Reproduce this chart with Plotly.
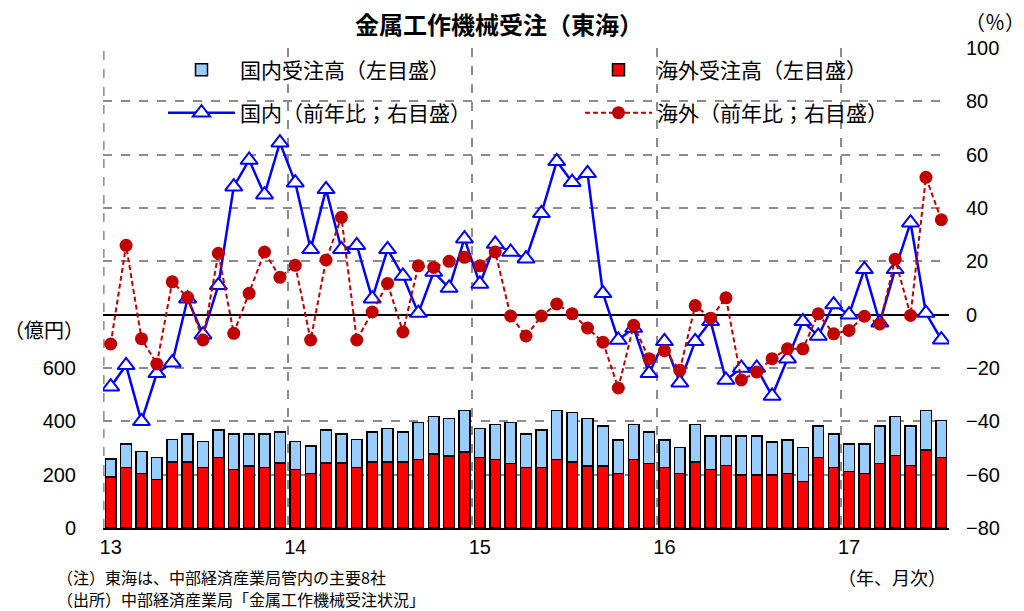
import plotly.graph_objects as go

# month index 0 = 2013-01 ... 54 = 2017-07
months = list(range(55))
year_labels = ["13", "14", "15", "16", "17"]
year_ticks = [0, 12, 24, 36, 48]

# 海外受注高（億円）
overseas_orders = [191, 227, 205, 182, 248, 248, 227, 264, 220, 233, 227, 243,
                   220, 205, 243, 243, 227, 248, 248, 248, 256, 277, 270, 285,
                   264, 256, 242, 227, 227, 256, 248, 233, 233, 205, 256, 242,
                   227, 205, 248, 220, 234, 198, 198, 198, 205, 175, 264, 227,
                   212, 205, 242, 271, 234, 293, 264]
# 国内受注高（億円）
domestic_orders = [67, 88, 82, 82, 83, 104, 97, 103, 132, 119, 125, 117,
                   104, 103, 124, 109, 104, 112, 126, 112, 140, 141, 141, 155,
                   110, 133, 154, 125, 140, 184, 185, 178, 149, 125, 133, 118,
                   103, 96, 141, 125, 111, 147, 147, 125, 125, 126, 118, 125,
                   103, 110, 140, 147, 148, 147, 140]
# 国内（前年比, %）
domestic_yoy = [-27, -19, -40, -22, -18, 6, -7.5, 11, 48, 58, 45, 64.5,
                49.5, 24.5, 47, 24.5, 26, 6, 24.5, 14.5, 0.6, 16, 10, 28.5,
                11.5, 26.5, 23.5, 21, 38, 57.5, 49.7, 53, 8, -9.5, -5, -22,
                -10, -25.5, -10, -2.5, -24.5, -20, -20, -30.5, -16.5, -2.5, -8, 3.8,
                0, 17, -3, 17, 34.5, 0.6, -9.4]
# 海外（前年比, %）
overseas_yoy = [-11, 26, -9, -18.5, 12.3, 6.5, -9.5, 23, -7, 8, 23.5, 14,
                18.5, -9.5, 20.5, 36.5, -9.5, 1, 11.7, -6.5, 18.3, 17.7, 20, 21.5,
                18.3, 23.5, -0.5, -8, -0.5, 4, 0.3, -5, -10.3, -27.5, -4, -16.5,
                -13.5, -20.8, 3.4, -1.3, 6.3, -24.5, -21.5, -16.5, -12.8, -12.8, 0.3, -7.2,
                -5.9, -0.6, -3.5, 20.8, -0.3, 51.5, 35.6]

CJK = "Noto Sans CJK JP"
NUM = "Liberation Sans, Arial, sans-serif"
GRID = "#8c8c8c"

fig = go.Figure()
fig.add_trace(go.Bar(
    x=months, y=overseas_orders, name="海外受注高（左目盛）",
    marker=dict(color="#FF0000", line=dict(color="black", width=1.5)),
    yaxis="y", legend="legend", legendrank=2))
fig.add_trace(go.Bar(
    x=months, y=domestic_orders, name="国内受注高（左目盛）",
    marker=dict(color="#99CCFF", line=dict(color="black", width=1.5)),
    yaxis="y", legend="legend", legendrank=1))
fig.add_trace(go.Scatter(
    x=months, y=domestic_yoy, name="国内（前年比；右目盛）", mode="lines+markers",
    line=dict(color="#0000FF", width=2.5),
    marker=dict(symbol="triangle-up", size=15, color="white",
                line=dict(color="#0000FF", width=2)),
    yaxis="y2", legend="legend2", legendrank=1))
fig.add_trace(go.Scatter(
    x=months, y=overseas_yoy, name="海外（前年比；右目盛）", mode="lines+markers",
    line=dict(color="#C00000", width=2, dash="5px,3px"),
    marker=dict(symbol="circle", size=13, color="#C00000"),
    yaxis="y2", legend="legend2", legendrank=2))

# page has an 8px body margin: figure is drawn from (8, 8)
W, H = 1016, 603
L, R, T, B = 95, 75, 40, 83
pw, ph = W - L - R, H - T - B
PLOT_LEFT_PAGE, PLOT_BOTTOM_PAGE = 103, 528


def px(x):
    return (x - PLOT_LEFT_PAGE) / pw


def py(y):
    return (PLOT_BOTTOM_PAGE - y) / ph


legend_common = dict(orientation="h", xanchor="left", yanchor="middle",
                     bgcolor="rgba(0,0,0,0)", borderwidth=0,
                     font=dict(family=CJK, size=21, color="black"),
                     itemwidth=67, entrywidthmode="pixels", entrywidth=335,
                     traceorder="normal")

fig.update_layout(
    width=W, height=H,
    margin=dict(l=L, r=R, t=T, b=B),
    paper_bgcolor="white", plot_bgcolor="white",
    barmode="stack", bargap=0.3,
    showlegend=True,
    legend=dict(x=px(163), y=py(70), **legend_common),
    legend2=dict(x=px(163), y=py(113), **legend_common),
    xaxis=dict(range=[-0.5, 54.5], tickmode="array", tickvals=year_ticks,
               ticktext=year_labels, showgrid=False, zeroline=False,
               showline=True, linecolor="black", linewidth=2, ticks="",
               tickfont=dict(family=NUM, size=20, color="black"),
               minor=dict(tickmode="array", tickvals=[11.5, 23.5, 35.5, 47.5],
                          showgrid=True, griddash="dash", gridcolor=GRID,
                          gridwidth=1.5, ticks="")),
    yaxis=dict(range=[0, 1800], tickmode="array", tickvals=[0, 200, 400, 600],
               showgrid=False, zeroline=False, showline=False, ticks="",
               ticklabelstandoff=26,
               tickfont=dict(family=NUM, size=20, color="black")),
    yaxis2=dict(range=[-80, 100], overlaying="y", side="right", tickmode="linear",
                tick0=0, dtick=20, showgrid=True, griddash="dash",
                gridcolor=GRID, gridwidth=1.5, zeroline=True,
                zerolinecolor="black", zerolinewidth=1.5, showline=False,
                ticks="", ticklabelstandoff=16,
                tickfont=dict(family=NUM, size=20, color="black")),
    shapes=[
        # dashed frame line at the left edge of the plot
        dict(type="line", xref="x domain", yref="paper", x0=0.001, x1=0.001,
             y0=0, y1=1, layer="below",
             line=dict(color=GRID, width=1.5, dash="dash")),
    ],
    annotations=[
        dict(text="<b>金属工作機械受注（東海）</b>", xref="paper", yref="paper",
             x=px(499), y=py(23), xanchor="center", yanchor="middle",
             showarrow=False, font=dict(family=CJK, size=24, color="black")),
        dict(text="（％）", xref="paper", yref="paper", x=px(995), y=py(22),
             xanchor="center", yanchor="middle", showarrow=False,
             font=dict(family=CJK, size=20, color="black")),
        dict(text="（億円）", xref="paper", yref="paper", x=px(86), y=py(329),
             xanchor="right", yanchor="middle", showarrow=False,
             font=dict(family=CJK, size=20, color="black")),
        dict(text="（注）東海は、中部経済産業局管内の主要8社", xref="paper", yref="paper",
             x=px(55), y=py(577), xanchor="left", yanchor="middle", showarrow=False,
             font=dict(family=CJK, size=16, color="black")),
        dict(text="（出所）中部経済産業局「金属工作機械受注状況」", xref="paper", yref="paper",
             x=px(55), y=py(599), xanchor="left", yanchor="middle", showarrow=False,
             font=dict(family=CJK, size=16, color="black")),
        dict(text="（年、月次）", xref="paper", yref="paper",
             x=px(836), y=py(577), xanchor="left", yanchor="middle", showarrow=False,
             font=dict(family=CJK, size=18, color="black")),
    ],
)

fig.write_html("out.html", config={"displayModeBar": False})
